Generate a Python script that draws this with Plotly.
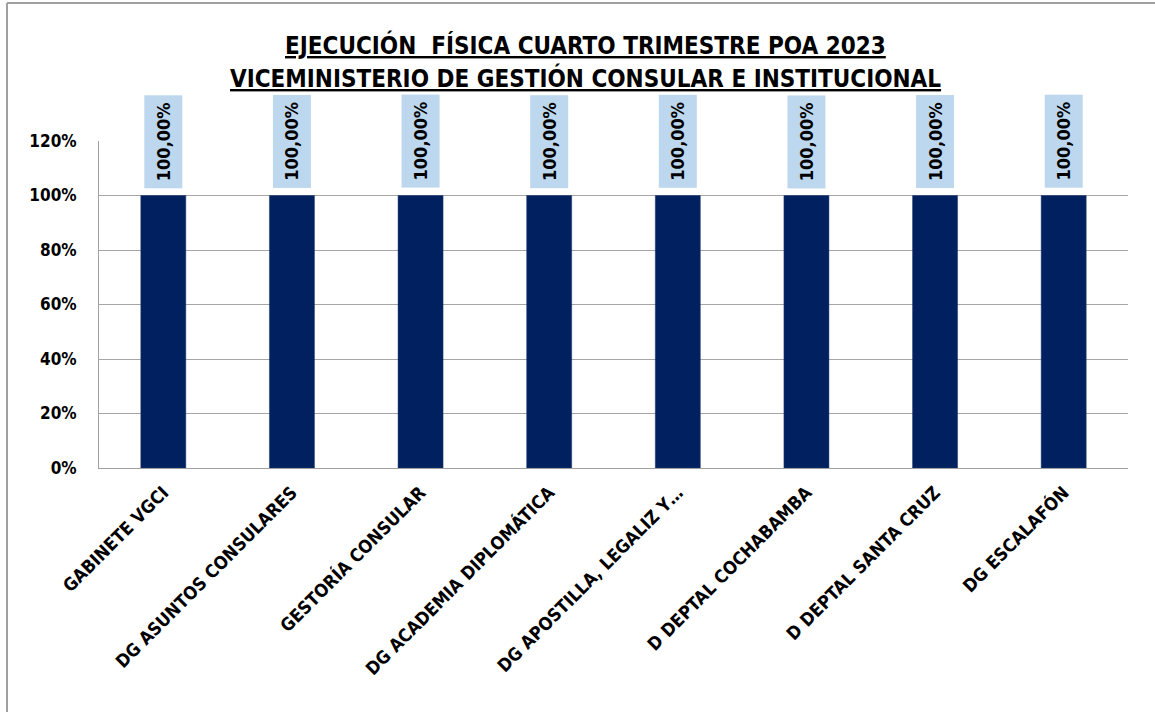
import plotly.graph_objects as go

categories = [
    "GABINETE VGCI",
    "DG ASUNTOS CONSULARES",
    "GESTORÍA CONSULAR",
    "DG ACADEMIA DIPLOMÁTICA",
    "DG APOSTILLA, LEGALIZ Y…",
    "D DEPTAL COCHABAMBA",
    "D DEPTAL SANTA CRUZ",
    "DG ESCALAFÓN",
]
values = [1.0, 1.0, 1.0, 1.0, 1.0, 1.0, 1.0, 1.0]
y_ticks = [0, 0.2, 0.4, 0.6, 0.8, 1.0, 1.2]
y_tick_labels = ["0%", "20%", "40%", "60%", "80%", "100%", "120%"]
title_lines = [
    "EJECUCIÓN  FÍSICA CUARTO TRIMESTRE POA 2023",
    "VICEMINISTERIO DE GESTIÓN CONSULAR E INSTITUCIONAL",
]

FONT = "Liberation Sans Narrow, DejaVu Sans Condensed, Arial Narrow, sans-serif"

def fmt(v):
    return f"{v*100:.2f}".replace(".", ",") + "%"

fig = go.Figure()
fig.add_trace(go.Bar(
    x=categories, y=values,
    marker=dict(color="#002060", line=dict(color="#1F3B73", width=0.5)),
    hoverinfo="skip",
))

W, H = 1155, 712
L, R, T, B = 99, 27, 141, 244
pw, ph = W - L - R, H - T - B

def px(xp):
    return (xp - L) / pw

def py(yp):
    return (H - B - yp) / ph

annotations = []
for c, v in zip(categories, values):
    annotations.append(dict(
        x=c, y=v, xref="x", yref="y",
        text=f"<b>{fmt(v)}</b>", showarrow=False,
        textangle=-90, yanchor="bottom", xanchor="center",
        yshift=7, width=90, height=35,
        bgcolor="#BDD7EE", font=dict(family=FONT, size=18, color="#000000"),
    ))

for i, line in enumerate(title_lines):
    annotations.append(dict(
        x=px(585), y=py(62 + 33 * i), xref="paper", yref="paper",
        xanchor="center", yanchor="bottom", showarrow=False,
        text=f"<b><u>{line}</u></b>",
        font=dict(family=FONT, size=24, color="#000000"),
    ))

shapes = [
    dict(type="line", xref="paper", yref="paper", x0=px(7), x1=px(1155), y0=py(3), y1=py(3),
         line=dict(color="#A0A0A0", width=2)),
    dict(type="line", xref="paper", yref="paper", x0=px(7), x1=px(7), y0=py(3), y1=py(712),
         line=dict(color="#A0A0A0", width=2)),
]

fig.update_layout(
    width=W, height=H,
    margin=dict(l=L, r=R, t=T, b=B),
    paper_bgcolor="white", plot_bgcolor="white",
    showlegend=False,
    bargap=0.65,
    xaxis=dict(
        type="category", tickangle=-45,
        tickvals=categories, ticktext=[f"<b>{c}</b>" for c in categories],
        tickfont=dict(family=FONT, size=18, color="#000000"),
        showline=True, linecolor="#A0A0A0", linewidth=1,
        showgrid=False, ticks="", automargin=False, ticklabelstandoff=6,
    ),
    yaxis=dict(
        range=[0, 1.2], tickvals=y_ticks, ticktext=[f"<b>{t}</b>" for t in y_tick_labels],
        tickfont=dict(family=FONT, size=17, color="#000000"),
        showgrid=True, gridcolor="#A6A6A6", gridwidth=1,
        showline=True, linecolor="#A0A0A0", linewidth=1,
        ticks="", ticklabelstandoff=18, zeroline=False, automargin=False,
    ),
    annotations=annotations,
    shapes=shapes,
)

fig.write_html(
    "out.html",
    config={"displayModeBar": False},
    post_script="document.body.style.margin='0';document.body.style.overflow='hidden';",
)
